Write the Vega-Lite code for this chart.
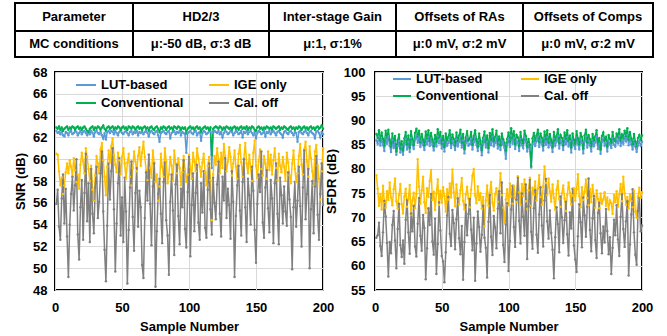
{
"$schema":"https://vega.github.io/schema/vega-lite/v6.json",
"background":"white",
"padding":{"left":13,"top":2,"right":5,"bottom":5},
"config":{"font":"Liberation Sans","view":{"stroke":"black","strokeWidth":2},
"axis":{"labelFont":"Liberation Sans","labelFontSize":13,"labelFontWeight":"bold","labelColor":"black","labelFlush":false,"titleFont":"Liberation Sans","titleFontSize":13,"titleFontWeight":"bold","titleColor":"black","domain":false,"ticks":false,"gridColor":"#d9d9d9","gridWidth":1},
"legend":{"labelFont":"Liberation Sans"}},
"datasets":{
"table":[
{"r":0,"x0":0,"x1":118,"xc":59,"y0":0,"y1":28,"yc":14,"t":"Parameter"},
{"r":0,"x0":118,"x1":254,"xc":186,"y0":0,"y1":28,"yc":14,"t":"HD2/3"},
{"r":0,"x0":254,"x1":381,"xc":317.5,"y0":0,"y1":28,"yc":14,"t":"Inter-stage Gain"},
{"r":0,"x0":381,"x1":508,"xc":444.5,"y0":0,"y1":28,"yc":14,"t":"Offsets of RAs"},
{"r":0,"x0":508,"x1":638,"xc":573,"y0":0,"y1":28,"yc":14,"t":"Offsets of Comps"},
{"r":1,"x0":0,"x1":118,"xc":59,"y0":28,"y1":54,"yc":41,"t":"MC conditions"},
{"r":1,"x0":118,"x1":254,"xc":186,"y0":28,"y1":54,"yc":41,"t":"μ:-50 dB, σ:3 dB"},
{"r":1,"x0":254,"x1":381,"xc":317.5,"y0":28,"y1":54,"yc":41,"t":"μ:1, σ:1%"},
{"r":1,"x0":381,"x1":508,"xc":444.5,"y0":28,"y1":54,"yc":41,"t":"μ:0 mV, σ:2 mV"},
{"r":1,"x0":508,"x1":638,"xc":573,"y0":28,"y1":54,"yc":41,"t":"μ:0 mV, σ:2 mV"}
],
"snr":[
{"n":1,"a":62.6,"b":60.5,"c":62.9,"d":55.9},
{"n":2,"a":62.4,"b":60.4,"c":62.8,"d":57.2},
{"n":3,"a":62.5,"b":58.9,"c":63.0,"d":53.8},
{"n":4,"a":62.3,"b":57.6,"c":62.7,"d":52.6},
{"n":5,"a":62.6,"b":58.3,"c":62.9,"d":56.4},
{"n":6,"a":62.2,"b":56.8,"c":62.6,"d":58.6},
{"n":7,"a":62.1,"b":57.6,"c":62.8,"d":54.1},
{"n":8,"a":62.5,"b":58.8,"c":62.9,"d":57.3},
{"n":9,"a":62.4,"b":59.6,"c":63.0,"d":52.9},
{"n":10,"a":62.2,"b":58.7,"c":62.7,"d":49.2},
{"n":11,"a":62.5,"b":59.9,"c":62.9,"d":54.0},
{"n":12,"a":62.6,"b":59.3,"c":62.8,"d":56.8},
{"n":13,"a":62.3,"b":58.4,"c":63.0,"d":58.4},
{"n":14,"a":62.4,"b":60.1,"c":62.9,"d":55.3},
{"n":15,"a":62.6,"b":59.0,"c":62.7,"d":57.6},
{"n":16,"a":62.5,"b":57.9,"c":62.9,"d":60.0},
{"n":17,"a":62.2,"b":58.6,"c":63.0,"d":53.1},
{"n":18,"a":62.4,"b":57.3,"c":62.8,"d":50.8},
{"n":19,"a":62.6,"b":59.5,"c":62.9,"d":55.6},
{"n":20,"a":62.3,"b":60.6,"c":62.7,"d":58.1},
{"n":21,"a":62.5,"b":59.8,"c":62.9,"d":52.6},
{"n":22,"a":62.6,"b":58.7,"c":63.0,"d":56.9},
{"n":23,"a":62.4,"b":61.0,"c":62.8,"d":60.5},
{"n":24,"a":62.2,"b":60.2,"c":62.6,"d":54.3},
{"n":25,"a":62.5,"b":59.1,"c":62.5,"d":57.8},
{"n":26,"a":62.3,"b":58.0,"c":62.8,"d":52.4},
{"n":27,"a":62.6,"b":59.4,"c":62.9,"d":59.1},
{"n":28,"a":62.4,"b":57.2,"c":63.0,"d":55.0},
{"n":29,"a":62.1,"b":56.2,"c":62.7,"d":53.2},
{"n":30,"a":62.5,"b":58.5,"c":62.9,"d":57.4},
{"n":31,"a":62.6,"b":60.3,"c":62.8,"d":59.3},
{"n":32,"a":62.4,"b":59.6,"c":63.0,"d":54.6},
{"n":33,"a":62.3,"b":58.7,"c":62.9,"d":56.1},
{"n":34,"a":62.5,"b":60.9,"c":62.7,"d":58.7},
{"n":35,"a":62.2,"b":61.5,"c":62.9,"d":60.7},
{"n":36,"a":61.9,"b":59.9,"c":63.1,"d":55.2},
{"n":37,"a":62.4,"b":58.4,"c":62.8,"d":51.7},
{"n":38,"a":61.8,"b":56.7,"c":62.6,"d":48.8},
{"n":39,"a":62.5,"b":59.3,"c":62.9,"d":53.9},
{"n":40,"a":62.6,"b":60.8,"c":63.0,"d":59.6},
{"n":41,"a":62.4,"b":59.7,"c":62.8,"d":56.3},
{"n":42,"a":62.6,"b":61.2,"c":62.9,"d":58.9},
{"n":43,"a":62.5,"b":61.9,"c":63.0,"d":61.0},
{"n":44,"a":62.3,"b":60.4,"c":62.7,"d":55.4},
{"n":45,"a":62.6,"b":59.5,"c":62.9,"d":49.7},
{"n":46,"a":62.4,"b":58.8,"c":62.8,"d":54.1},
{"n":47,"a":62.2,"b":60.6,"c":63.0,"d":57.8},
{"n":48,"a":62.5,"b":59.9,"c":62.9,"d":60.1},
{"n":49,"a":62.6,"b":58.6,"c":62.7,"d":53.0},
{"n":50,"a":62.4,"b":60.2,"c":62.9,"d":56.5},
{"n":51,"a":62.3,"b":61.0,"c":63.0,"d":52.4},
{"n":52,"a":62.5,"b":59.6,"c":62.8,"d":58.3},
{"n":53,"a":62.6,"b":58.2,"c":62.9,"d":55.2},
{"n":54,"a":62.4,"b":59.7,"c":62.7,"d":48.6},
{"n":55,"a":62.2,"b":60.5,"c":63.0,"d":53.5},
{"n":56,"a":62.5,"b":58.4,"c":62.9,"d":57.4},
{"n":57,"a":62.6,"b":57.6,"c":62.8,"d":59.8},
{"n":58,"a":62.3,"b":59.2,"c":63.0,"d":54.7},
{"n":59,"a":62.5,"b":60.7,"c":62.9,"d":51.6},
{"n":60,"a":62.4,"b":59.8,"c":62.7,"d":56.9},
{"n":61,"a":62.6,"b":58.9,"c":62.9,"d":59.2},
{"n":62,"a":62.2,"b":60.3,"c":63.0,"d":53.8},
{"n":63,"a":62.5,"b":61.1,"c":62.8,"d":57.1},
{"n":64,"a":62.4,"b":59.4,"c":62.9,"d":55.6},
{"n":65,"a":62.6,"b":60.6,"c":62.7,"d":50.3},
{"n":66,"a":62.3,"b":61.6,"c":62.9,"d":49.1},
{"n":67,"a":62.5,"b":60.2,"c":63.0,"d":54.6},
{"n":68,"a":62.6,"b":59.0,"c":62.8,"d":58.8},
{"n":69,"a":62.4,"b":58.1,"c":62.9,"d":56.2},
{"n":70,"a":62.1,"b":60.4,"c":62.6,"d":60.4},
{"n":71,"a":62.5,"b":59.2,"c":62.9,"d":55.9},
{"n":72,"a":62.6,"b":58.3,"c":63.0,"d":52.1},
{"n":73,"a":62.4,"b":60.8,"c":62.8,"d":57.5},
{"n":74,"a":62.3,"b":59.7,"c":62.7,"d":59.6},
{"n":75,"a":62.5,"b":57.9,"c":62.9,"d":48.3},
{"n":76,"a":62.6,"b":58.6,"c":63.0,"d":53.4},
{"n":77,"a":62.2,"b":56.2,"c":62.8,"d":56.8},
{"n":78,"a":61.6,"b":57.5,"c":62.5,"d":58.2},
{"n":79,"a":62.4,"b":60.5,"c":62.9,"d":55.0},
{"n":80,"a":62.5,"b":59.3,"c":62.8,"d":52.3},
{"n":81,"a":62.6,"b":58.4,"c":63.0,"d":57.9},
{"n":82,"a":62.4,"b":61.0,"c":62.9,"d":59.7},
{"n":83,"a":62.3,"b":59.8,"c":62.7,"d":54.4},
{"n":84,"a":62.5,"b":57.8,"c":62.9,"d":53.0},
{"n":85,"a":62.6,"b":58.6,"c":63.0,"d":49.4},
{"n":86,"a":61.9,"b":60.2,"c":62.8,"d":56.1},
{"n":87,"a":62.4,"b":59.4,"c":62.9,"d":58.6},
{"n":88,"a":62.5,"b":58.0,"c":62.7,"d":55.3},
{"n":89,"a":62.6,"b":60.8,"c":63.0,"d":51.2},
{"n":90,"a":62.3,"b":59.6,"c":62.9,"d":57.7},
{"n":91,"a":62.5,"b":58.7,"c":62.8,"d":59.5},
{"n":92,"a":62.4,"b":60.1,"c":63.0,"d":54.8},
{"n":93,"a":62.6,"b":59.2,"c":62.9,"d":52.2},
{"n":94,"a":62.2,"b":57.6,"c":62.7,"d":57.3},
{"n":95,"a":62.5,"b":58.8,"c":62.9,"d":55.6},
{"n":96,"a":62.4,"b":60.3,"c":62.8,"d":59.9},
{"n":97,"a":62.3,"b":59.1,"c":62.9,"d":53.6},
{"n":98,"a":60.6,"b":57.9,"c":62.4,"d":51.9},
{"n":99,"a":62.4,"b":58.6,"c":62.8,"d":57.0},
{"n":100,"a":62.5,"b":60.4,"c":62.9,"d":60.2},
{"n":101,"a":62.6,"b":59.3,"c":63.0,"d":51.1},
{"n":102,"a":62.4,"b":58.2,"c":62.8,"d":55.8},
{"n":103,"a":62.3,"b":60.6,"c":62.9,"d":58.7},
{"n":104,"a":62.5,"b":59.8,"c":62.7,"d":53.4},
{"n":105,"a":62.6,"b":58.9,"c":62.9,"d":56.9},
{"n":106,"a":62.2,"b":61.0,"c":63.0,"d":59.5},
{"n":107,"a":62.4,"b":60.1,"c":62.8,"d":54.2},
{"n":108,"a":62.5,"b":59.3,"c":62.9,"d":52.6},
{"n":109,"a":61.7,"b":58.4,"c":62.5,"d":57.8},
{"n":110,"a":62.4,"b":59.7,"c":62.8,"d":55.1},
{"n":111,"a":62.6,"b":60.5,"c":62.9,"d":58.9},
{"n":112,"a":62.5,"b":58.8,"c":63.0,"d":53.7},
{"n":113,"a":62.3,"b":57.6,"c":62.8,"d":52.8},
{"n":114,"a":62.4,"b":59.4,"c":62.9,"d":57.2},
{"n":115,"a":62.6,"b":60.2,"c":62.7,"d":59.6},
{"n":116,"a":62.5,"b":58.1,"c":62.9,"d":55.4},
{"n":117,"a":59.2,"b":54.4,"c":60.4,"d":53.1},
{"n":118,"a":62.4,"b":58.6,"c":62.8,"d":58.3},
{"n":119,"a":62.6,"b":60.3,"c":62.9,"d":56.0},
{"n":120,"a":62.5,"b":59.5,"c":63.0,"d":54.5},
{"n":121,"a":62.4,"b":61.0,"c":62.9,"d":57.7},
{"n":122,"a":62.6,"b":60.0,"c":62.8,"d":59.8},
{"n":123,"a":62.3,"b":58.7,"c":63.0,"d":55.0},
{"n":124,"a":62.5,"b":60.6,"c":62.9,"d":52.9},
{"n":125,"a":62.0,"b":59.2,"c":62.7,"d":58.4},
{"n":126,"a":62.4,"b":61.4,"c":62.9,"d":56.2},
{"n":127,"a":62.6,"b":60.3,"c":62.8,"d":60.1},
{"n":128,"a":62.5,"b":58.9,"c":63.0,"d":54.6},
{"n":129,"a":62.3,"b":59.8,"c":62.9,"d":57.3},
{"n":130,"a":62.4,"b":61.1,"c":62.8,"d":55.8},
{"n":131,"a":62.6,"b":60.2,"c":62.9,"d":52.7},
{"n":132,"a":62.5,"b":58.5,"c":62.7,"d":58.9},
{"n":133,"a":62.2,"b":59.6,"c":62.9,"d":56.1},
{"n":134,"a":62.4,"b":60.8,"c":63.0,"d":49.2},
{"n":135,"a":62.6,"b":59.3,"c":62.8,"d":54.8},
{"n":136,"a":62.5,"b":58.2,"c":62.9,"d":57.6},
{"n":137,"a":62.3,"b":60.5,"c":62.7,"d":59.4},
{"n":138,"a":62.4,"b":61.3,"c":62.9,"d":55.3},
{"n":139,"a":62.6,"b":59.7,"c":63.0,"d":53.0},
{"n":140,"a":62.0,"b":58.4,"c":62.8,"d":57.9},
{"n":141,"a":62.5,"b":60.1,"c":62.9,"d":60.0},
{"n":142,"a":62.4,"b":61.5,"c":62.8,"d":55.6},
{"n":143,"a":62.6,"b":59.6,"c":63.0,"d":52.4},
{"n":144,"a":62.3,"b":58.7,"c":62.7,"d":58.2},
{"n":145,"a":62.5,"b":60.4,"c":62.9,"d":56.7},
{"n":146,"a":62.6,"b":59.2,"c":62.8,"d":54.0},
{"n":147,"a":62.4,"b":58.0,"c":63.0,"d":59.3},
{"n":148,"a":62.2,"b":60.6,"c":62.9,"d":57.1},
{"n":149,"a":62.5,"b":61.7,"c":62.7,"d":53.5},
{"n":150,"a":61.9,"b":59.4,"c":62.6,"d":50.5},
{"n":151,"a":62.4,"b":58.3,"c":62.9,"d":55.9},
{"n":152,"a":62.6,"b":59.8,"c":63.0,"d":58.6},
{"n":153,"a":62.5,"b":60.9,"c":62.8,"d":57.0},
{"n":154,"a":62.3,"b":59.1,"c":62.9,"d":60.7},
{"n":155,"a":62.4,"b":58.5,"c":62.7,"d":54.2},
{"n":156,"a":62.6,"b":60.3,"c":62.9,"d":52.8},
{"n":157,"a":62.1,"b":59.6,"c":62.8,"d":57.4},
{"n":158,"a":62.5,"b":58.2,"c":63.0,"d":59.0},
{"n":159,"a":62.4,"b":60.7,"c":62.9,"d":55.5},
{"n":160,"a":62.6,"b":59.0,"c":62.8,"d":53.3},
{"n":161,"a":62.3,"b":60.4,"c":62.9,"d":58.1},
{"n":162,"a":62.5,"b":58.6,"c":62.7,"d":56.4},
{"n":163,"a":62.6,"b":59.9,"c":63.0,"d":52.3},
{"n":164,"a":62.4,"b":61.0,"c":62.9,"d":57.8},
{"n":165,"a":62.2,"b":59.2,"c":62.8,"d":59.6},
{"n":166,"a":62.5,"b":58.1,"c":62.9,"d":55.0},
{"n":167,"a":62.6,"b":60.5,"c":63.0,"d":52.2},
{"n":168,"a":62.4,"b":59.4,"c":62.7,"d":58.3},
{"n":169,"a":62.3,"b":58.8,"c":62.9,"d":56.7},
{"n":170,"a":62.0,"b":60.2,"c":62.8,"d":54.1},
{"n":171,"a":62.5,"b":59.3,"c":63.0,"d":57.5},
{"n":172,"a":62.6,"b":58.0,"c":62.9,"d":55.2},
{"n":173,"a":62.4,"b":60.6,"c":62.8,"d":53.9},
{"n":174,"a":62.3,"b":59.7,"c":62.7,"d":58.8},
{"n":175,"a":62.5,"b":58.5,"c":62.9,"d":56.3},
{"n":176,"a":62.6,"b":57.8,"c":63.0,"d":54.7},
{"n":177,"a":62.4,"b":59.6,"c":62.8,"d":49.9},
{"n":178,"a":62.2,"b":60.8,"c":62.9,"d":55.6},
{"n":179,"a":62.5,"b":59.1,"c":62.7,"d":57.9},
{"n":180,"a":62.4,"b":57.9,"c":62.9,"d":53.8},
{"n":181,"a":61.6,"b":58.7,"c":62.8,"d":56.2},
{"n":182,"a":62.5,"b":60.3,"c":63.0,"d":59.3},
{"n":183,"a":62.6,"b":61.4,"c":62.9,"d":55.7},
{"n":184,"a":62.4,"b":59.5,"c":62.7,"d":52.0},
{"n":185,"a":62.3,"b":58.6,"c":62.9,"d":57.4},
{"n":186,"a":62.5,"b":60.9,"c":63.0,"d":60.8},
{"n":187,"a":62.6,"b":61.6,"c":62.8,"d":54.5},
{"n":188,"a":62.4,"b":59.8,"c":62.9,"d":56.8},
{"n":189,"a":62.2,"b":58.4,"c":62.7,"d":59.1},
{"n":190,"a":62.5,"b":61.2,"c":62.9,"d":50.0},
{"n":191,"a":62.6,"b":60.1,"c":63.0,"d":55.4},
{"n":192,"a":62.4,"b":58.9,"c":62.8,"d":58.0},
{"n":193,"a":62.3,"b":57.6,"c":62.9,"d":53.2},
{"n":194,"a":61.9,"b":60.7,"c":62.7,"d":57.5},
{"n":195,"a":62.5,"b":61.3,"c":62.9,"d":60.3},
{"n":196,"a":62.6,"b":59.4,"c":63.0,"d":54.9},
{"n":197,"a":62.4,"b":58.2,"c":62.8,"d":52.6},
{"n":198,"a":62.0,"b":56.3,"c":62.9,"d":56.8},
{"n":199,"a":62.5,"b":58.9,"c":63.1,"d":59.6},
{"n":200,"a":62.3,"b":61.0,"c":62.8,"d":55.8}
],
"sfdr":[
{"n":1,"a":85.9,"b":78.7,"c":87.2,"d":65.8},
{"n":2,"a":85.2,"b":75.9,"c":86.4,"d":66.3},
{"n":3,"a":86.7,"b":72.4,"c":88.0,"d":68.9},
{"n":4,"a":84.8,"b":74.8,"c":85.9,"d":64.1},
{"n":5,"a":86.1,"b":71.6,"c":87.5,"d":62.0},
{"n":6,"a":85.0,"b":76.5,"c":86.2,"d":66.9},
{"n":7,"a":83.7,"b":73.2,"c":84.8,"d":73.4},
{"n":8,"a":86.5,"b":72.0,"c":87.9,"d":70.2},
{"n":9,"a":85.2,"b":75.4,"c":86.5,"d":64.7},
{"n":10,"a":86.6,"b":73.6,"c":88.1,"d":57.8},
{"n":11,"a":84.8,"b":77.2,"c":86.0,"d":64.9},
{"n":12,"a":83.5,"b":74.1,"c":84.6,"d":62.6},
{"n":13,"a":86.0,"b":72.5,"c":87.3,"d":68.4},
{"n":14,"a":84.3,"b":75.8,"c":85.4,"d":71.3},
{"n":15,"a":85.5,"b":78.0,"c":86.8,"d":65.2},
{"n":16,"a":82.9,"b":73.3,"c":83.6,"d":59.5},
{"n":17,"a":84.7,"b":71.8,"c":85.9,"d":67.6},
{"n":18,"a":85.8,"b":74.6,"c":87.1,"d":72.8},
{"n":19,"a":83.4,"b":76.9,"c":84.2,"d":64.3},
{"n":20,"a":84.6,"b":72.7,"c":85.7,"d":61.8},
{"n":21,"a":82.9,"b":70.8,"c":83.8,"d":65.2},
{"n":22,"a":85.0,"b":74.3,"c":86.3,"d":60.4},
{"n":23,"a":86.2,"b":75.9,"c":87.6,"d":69.5},
{"n":24,"a":84.0,"b":72.2,"c":85.1,"d":73.6},
{"n":25,"a":85.6,"b":73.8,"c":86.9,"d":66.9},
{"n":26,"a":83.5,"b":76.7,"c":84.3,"d":62.5},
{"n":27,"a":86.4,"b":70.6,"c":87.8,"d":70.8},
{"n":28,"a":85.0,"b":73.5,"c":86.2,"d":67.1},
{"n":29,"a":84.1,"b":75.1,"c":85.0,"d":72.4},
{"n":30,"a":86.0,"b":71.9,"c":87.4,"d":64.0},
{"n":31,"a":86.8,"b":74.8,"c":88.3,"d":61.9},
{"n":32,"a":85.4,"b":82.0,"c":86.6,"d":68.7},
{"n":33,"a":86.5,"b":76.3,"c":87.9,"d":74.0},
{"n":34,"a":84.5,"b":72.8,"c":85.5,"d":66.2},
{"n":35,"a":85.9,"b":75.6,"c":87.2,"d":63.1},
{"n":36,"a":85.0,"b":78.4,"c":86.0,"d":70.5},
{"n":37,"a":83.9,"b":73.1,"c":84.9,"d":67.8},
{"n":38,"a":86.3,"b":70.9,"c":87.7,"d":57.2},
{"n":39,"a":85.1,"b":76.0,"c":86.3,"d":63.6},
{"n":40,"a":86.6,"b":74.2,"c":88.0,"d":71.9},
{"n":41,"a":84.7,"b":77.5,"c":85.8,"d":68.4},
{"n":42,"a":86.0,"b":79.8,"c":87.4,"d":74.8},
{"n":43,"a":85.0,"b":73.6,"c":86.1,"d":65.0},
{"n":44,"a":83.8,"b":75.3,"c":84.7,"d":62.3},
{"n":45,"a":85.7,"b":71.5,"c":87.0,"d":69.7},
{"n":46,"a":84.6,"b":74.9,"c":85.6,"d":58.3},
{"n":47,"a":86.8,"b":77.8,"c":88.2,"d":64.5},
{"n":48,"a":85.3,"b":72.6,"c":86.4,"d":73.1},
{"n":49,"a":86.2,"b":75.5,"c":87.6,"d":67.3},
{"n":50,"a":84.2,"b":73.0,"c":85.2,"d":62.0},
{"n":51,"a":85.5,"b":76.2,"c":86.8,"d":60.9},
{"n":52,"a":83.6,"b":74.4,"c":84.5,"d":56.6},
{"n":53,"a":85.9,"b":71.2,"c":87.3,"d":62.8},
{"n":54,"a":84.8,"b":75.8,"c":85.9,"d":70.4},
{"n":55,"a":85.4,"b":73.7,"c":86.6,"d":74.2},
{"n":56,"a":86.5,"b":77.0,"c":88.0,"d":66.6},
{"n":57,"a":84.3,"b":74.1,"c":85.3,"d":64.1},
{"n":58,"a":85.8,"b":79.9,"c":87.1,"d":71.5},
{"n":59,"a":85.1,"b":75.2,"c":86.2,"d":68.8},
{"n":60,"a":83.9,"b":72.3,"c":84.8,"d":63.4},
{"n":61,"a":86.1,"b":76.8,"c":87.5,"d":69.6},
{"n":62,"a":84.6,"b":74.0,"c":85.7,"d":73.9},
{"n":63,"a":85.6,"b":72.7,"c":86.9,"d":65.7},
{"n":64,"a":86.7,"b":75.6,"c":88.1,"d":62.4},
{"n":65,"a":84.4,"b":78.1,"c":85.4,"d":68.2},
{"n":66,"a":85.9,"b":73.4,"c":87.2,"d":57.1},
{"n":67,"a":83.2,"b":71.6,"c":84.1,"d":64.9},
{"n":68,"a":85.3,"b":74.7,"c":86.5,"d":72.6},
{"n":69,"a":86.4,"b":76.3,"c":87.8,"d":66.3},
{"n":70,"a":84.8,"b":73.9,"c":85.9,"d":70.7},
{"n":71,"a":85.1,"b":72.1,"c":86.3,"d":73.8},
{"n":72,"a":86.2,"b":75.7,"c":87.6,"d":67.5},
{"n":73,"a":84.0,"b":78.6,"c":85.0,"d":63.2},
{"n":74,"a":85.5,"b":80.0,"c":86.8,"d":69.9},
{"n":75,"a":86.5,"b":74.5,"c":88.0,"d":56.9},
{"n":76,"a":85.0,"b":72.9,"c":86.1,"d":64.6},
{"n":77,"a":83.7,"b":76.4,"c":84.6,"d":71.2},
{"n":78,"a":85.9,"b":73.6,"c":87.3,"d":68.0},
{"n":79,"a":84.7,"b":75.0,"c":85.8,"d":62.9},
{"n":80,"a":82.8,"b":71.8,"c":83.9,"d":66.4},
{"n":81,"a":85.2,"b":74.2,"c":86.4,"d":72.4},
{"n":82,"a":86.3,"b":68.1,"c":87.7,"d":65.8},
{"n":83,"a":84.4,"b":73.5,"c":85.5,"d":63.7},
{"n":84,"a":85.6,"b":76.6,"c":86.9,"d":57.6},
{"n":85,"a":83.4,"b":72.4,"c":84.3,"d":69.1},
{"n":86,"a":86.0,"b":75.1,"c":87.4,"d":74.6},
{"n":87,"a":84.9,"b":77.3,"c":86.0,"d":66.0},
{"n":88,"a":86.7,"b":73.0,"c":88.2,"d":62.2},
{"n":89,"a":84.6,"b":71.4,"c":85.7,"d":70.3},
{"n":90,"a":85.4,"b":74.8,"c":86.6,"d":67.9},
{"n":91,"a":86.4,"b":76.0,"c":87.9,"d":63.6},
{"n":92,"a":84.2,"b":73.2,"c":85.2,"d":71.8},
{"n":93,"a":85.4,"b":75.4,"c":86.7,"d":75.4},
{"n":94,"a":83.9,"b":79.1,"c":84.9,"d":66.7},
{"n":95,"a":85.9,"b":74.6,"c":87.3,"d":77.2},
{"n":96,"a":85.0,"b":72.0,"c":86.1,"d":64.3},
{"n":97,"a":84.3,"b":68.9,"c":85.4,"d":60.8},
{"n":98,"a":82.1,"b":73.7,"c":83.8,"d":68.5},
{"n":99,"a":85.0,"b":75.8,"c":86.2,"d":72.9},
{"n":100,"a":86.1,"b":72.5,"c":87.5,"d":58.9},
{"n":101,"a":84.5,"b":77.0,"c":85.6,"d":65.1},
{"n":102,"a":86.9,"b":74.3,"c":88.4,"d":71.6},
{"n":103,"a":85.2,"b":72.8,"c":86.3,"d":76.5},
{"n":104,"a":86.4,"b":76.5,"c":87.8,"d":68.0},
{"n":105,"a":84.1,"b":74.0,"c":85.1,"d":63.9},
{"n":106,"a":85.7,"b":73.1,"c":87.0,"d":73.7},
{"n":107,"a":85.4,"b":78.5,"c":86.5,"d":78.1},
{"n":108,"a":83.7,"b":75.2,"c":84.7,"d":69.3},
{"n":109,"a":86.2,"b":72.6,"c":87.6,"d":64.6},
{"n":110,"a":84.9,"b":76.9,"c":86.0,"d":74.9},
{"n":111,"a":84.3,"b":74.4,"c":85.3,"d":70.1},
{"n":112,"a":86.5,"b":77.8,"c":87.9,"d":66.2},
{"n":113,"a":85.6,"b":73.3,"c":86.8,"d":76.8},
{"n":114,"a":83.6,"b":71.7,"c":84.6,"d":61.4},
{"n":115,"a":85.0,"b":75.6,"c":86.2,"d":72.3},
{"n":116,"a":84.0,"b":78.2,"c":85.0,"d":77.7},
{"n":117,"a":80.3,"b":72.4,"c":80.6,"d":67.0},
{"n":118,"a":85.1,"b":76.1,"c":86.3,"d":63.5},
{"n":119,"a":86.0,"b":74.7,"c":87.4,"d":71.9},
{"n":120,"a":84.7,"b":77.4,"c":85.8,"d":75.6},
{"n":121,"a":85.7,"b":73.5,"c":86.9,"d":66.4},
{"n":122,"a":86.7,"b":75.9,"c":88.1,"d":62.7},
{"n":123,"a":84.5,"b":78.7,"c":85.6,"d":70.6},
{"n":124,"a":85.9,"b":74.2,"c":87.3,"d":76.2},
{"n":125,"a":85.2,"b":72.6,"c":86.4,"d":68.3},
{"n":126,"a":83.8,"b":76.4,"c":84.8,"d":64.0},
{"n":127,"a":86.3,"b":80.5,"c":87.7,"d":73.5},
{"n":128,"a":85.0,"b":77.1,"c":86.1,"d":77.9},
{"n":129,"a":86.6,"b":74.6,"c":88.0,"d":69.2},
{"n":130,"a":84.4,"b":78.0,"c":85.4,"d":65.6},
{"n":131,"a":85.9,"b":75.3,"c":87.2,"d":71.4},
{"n":132,"a":84.9,"b":73.2,"c":86.0,"d":66.8},
{"n":133,"a":83.5,"b":76.8,"c":84.5,"d":63.3},
{"n":134,"a":86.2,"b":74.0,"c":87.6,"d":57.4},
{"n":135,"a":84.8,"b":71.5,"c":85.9,"d":65.9},
{"n":136,"a":85.6,"b":75.7,"c":86.8,"d":72.1},
{"n":137,"a":86.8,"b":77.5,"c":88.2,"d":68.6},
{"n":138,"a":84.2,"b":73.8,"c":85.3,"d":62.8},
{"n":139,"a":85.8,"b":72.2,"c":87.0,"d":74.3},
{"n":140,"a":85.3,"b":75.0,"c":86.4,"d":70.0},
{"n":141,"a":83.9,"b":76.6,"c":84.9,"d":64.7},
{"n":142,"a":86.1,"b":73.9,"c":87.5,"d":69.4},
{"n":143,"a":85.1,"b":71.3,"c":86.2,"d":73.2},
{"n":144,"a":86.6,"b":74.6,"c":88.0,"d":66.5},
{"n":145,"a":84.6,"b":77.2,"c":85.7,"d":62.1},
{"n":146,"a":85.7,"b":75.1,"c":86.9,"d":71.0},
{"n":147,"a":83.4,"b":72.7,"c":84.4,"d":67.7},
{"n":148,"a":86.0,"b":74.5,"c":87.3,"d":75.9},
{"n":149,"a":84.9,"b":76.0,"c":86.0,"d":64.2},
{"n":150,"a":84.1,"b":73.4,"c":85.2,"d":61.3},
{"n":151,"a":86.4,"b":75.8,"c":87.8,"d":58.7},
{"n":152,"a":85.2,"b":78.9,"c":86.3,"d":66.1},
{"n":153,"a":84.0,"b":74.4,"c":85.1,"d":72.7},
{"n":154,"a":86.0,"b":72.1,"c":87.4,"d":69.0},
{"n":155,"a":85.4,"b":76.2,"c":86.6,"d":63.8},
{"n":156,"a":83.2,"b":73.6,"c":84.2,"d":74.1},
{"n":157,"a":85.6,"b":75.3,"c":86.9,"d":70.4},
{"n":158,"a":86.7,"b":77.8,"c":88.1,"d":66.0},
{"n":159,"a":84.4,"b":74.0,"c":85.5,"d":72.2},
{"n":160,"a":85.8,"b":72.5,"c":87.0,"d":78.0},
{"n":161,"a":84.9,"b":75.9,"c":86.1,"d":67.4},
{"n":162,"a":83.6,"b":73.1,"c":84.7,"d":63.0},
{"n":163,"a":85.9,"b":76.7,"c":87.2,"d":69.8},
{"n":164,"a":84.7,"b":74.3,"c":85.8,"d":74.4},
{"n":165,"a":85.5,"b":72.0,"c":86.7,"d":65.3},
{"n":166,"a":86.6,"b":75.6,"c":88.0,"d":61.6},
{"n":167,"a":84.1,"b":73.8,"c":85.2,"d":70.9},
{"n":168,"a":85.2,"b":71.9,"c":86.4,"d":73.0},
{"n":169,"a":83.1,"b":74.9,"c":84.0,"d":66.7},
{"n":170,"a":85.6,"b":72.8,"c":86.8,"d":62.6},
{"n":171,"a":86.2,"b":73.7,"c":87.5,"d":68.1},
{"n":172,"a":84.8,"b":75.2,"c":85.9,"d":64.8},
{"n":173,"a":85.4,"b":72.4,"c":86.6,"d":71.7},
{"n":174,"a":83.6,"b":74.1,"c":84.6,"d":67.2},
{"n":175,"a":85.8,"b":71.6,"c":87.0,"d":62.4},
{"n":176,"a":85.1,"b":73.5,"c":86.2,"d":65.9},
{"n":177,"a":84.3,"b":72.9,"c":85.4,"d":58.3},
{"n":178,"a":86.3,"b":70.7,"c":87.6,"d":63.7},
{"n":179,"a":85.0,"b":74.6,"c":86.1,"d":69.5},
{"n":180,"a":84.6,"b":73.1,"c":85.7,"d":66.3},
{"n":181,"a":86.0,"b":75.4,"c":87.3,"d":72.5},
{"n":182,"a":85.3,"b":72.2,"c":86.5,"d":65.4},
{"n":183,"a":86.8,"b":74.8,"c":88.2,"d":62.0},
{"n":184,"a":84.7,"b":76.9,"c":85.8,"d":70.1},
{"n":185,"a":85.9,"b":73.3,"c":87.1,"d":74.7},
{"n":186,"a":85.2,"b":78.4,"c":86.4,"d":67.6},
{"n":187,"a":86.6,"b":75.0,"c":87.9,"d":63.9},
{"n":188,"a":85.7,"b":72.6,"c":86.8,"d":69.2},
{"n":189,"a":87.0,"b":74.2,"c":88.4,"d":73.3},
{"n":190,"a":84.9,"b":71.8,"c":86.0,"d":58.0},
{"n":191,"a":86.3,"b":74.7,"c":87.6,"d":64.4},
{"n":192,"a":85.1,"b":73.4,"c":86.3,"d":70.6},
{"n":193,"a":84.0,"b":72.1,"c":85.1,"d":75.8},
{"n":194,"a":85.9,"b":75.5,"c":87.2,"d":66.9},
{"n":195,"a":84.6,"b":71.2,"c":85.7,"d":62.3},
{"n":196,"a":83.5,"b":69.9,"c":84.6,"d":60.2},
{"n":197,"a":84.9,"b":74.3,"c":86.4,"d":71.3},
{"n":198,"a":85.7,"b":76.1,"c":87.0,"d":74.0},
{"n":199,"a":84.8,"b":74.0,"c":86.1,"d":67.1},
{"n":200,"a":85.6,"b":75.2,"c":86.9,"d":68.3}
]
},
"vconcat":[
{
"width":638,"height":54,
"view":{"stroke":null},
"data":{"name":"table"},
"layer":[
{"mark":{"type":"rect","fill":"white","stroke":"black","strokeWidth":2},
"encoding":{"x":{"field":"x0","type":"quantitative","scale":{"domain":[40,678],"nice":false,"zero":false},"axis":null},"x2":{"field":"x1"},
"y":{"field":"y0","type":"quantitative","scale":{"domain":[0,54],"reverse":true,"nice":false},"axis":null},"y2":{"field":"y1"}}},
{"mark":{"type":"text","fontWeight":"bold","fontSize":13,"font":"Liberation Sans","color":"black"},
"encoding":{"x":{"field":"xc","type":"quantitative"},"y":{"field":"yc","type":"quantitative"},"text":{"field":"t","type":"nominal"}}}
]
},
{
"hconcat":[
{
"width":268,"height":218,
"data":{"name":"snr"},
"transform":[{"fold":["a","b","c","d"],"as":["s","v"]}],
"mark":{"type":"line","strokeWidth":1.5,"point":{"filled":true,"size":6}},
"encoding":{
"x":{"field":"n","type":"quantitative","scale":{"domain":[0,200],"nice":false},"axis":{"values":[0,50,100,150,200],"title":"Sample Number","labelPadding":11,"titlePadding":6}},
"y":{"field":"v","type":"quantitative","scale":{"domain":[48,68],"nice":false},"axis":{"values":[48,50,52,54,56,58,60,62,64,66,68],"title":"SNR (dB)","labelPadding":8,"titlePadding":5}},
"color":{"field":"s","type":"nominal","scale":{"domain":["a","c","b","d"],"range":["#5B9BD5","#00B050","#FFC000","#808080"]},
"legend":{"orient":"none","legendX":20,"legendY":2,"columns":2,"columnPadding":21,"rowPadding":-8,"symbolType":"stroke","symbolSize":400,"symbolStrokeWidth":2,"labelFontSize":13,"labelFontWeight":"bold","labelColor":"black","labelOffset":4,"title":null,
"labelExpr":"datum.label=='a'?'LUT-based':datum.label=='b'?'IGE only':datum.label=='c'?'Conventional':'Cal. off'"}}
}
},
{
"width":267,"height":218,
"data":{"name":"sfdr"},
"transform":[{"fold":["a","b","c","d"],"as":["s","v"]}],
"mark":{"type":"line","strokeWidth":1.5,"point":{"filled":true,"size":6}},
"encoding":{
"x":{"field":"n","type":"quantitative","scale":{"domain":[0,200],"nice":false},"axis":{"values":[0,50,100,150,200],"title":"Sample Number","labelPadding":11,"titlePadding":6}},
"y":{"field":"v","type":"quantitative","scale":{"domain":[55,100],"nice":false},"axis":{"values":[55,60,65,70,75,80,85,90,95,100],"title":"SFDR (dB)","labelPadding":10,"titlePadding":5}},
"color":{"field":"s","type":"nominal","scale":{"domain":["a","c","b","d"],"range":["#5B9BD5","#00B050","#FFC000","#808080"]},
"legend":{"orient":"none","legendX":17,"legendY":-3,"columns":2,"columnPadding":18,"rowPadding":-14,"symbolType":"stroke","symbolSize":324,"symbolStrokeWidth":2,"labelFontSize":13,"labelFontWeight":"bold","labelColor":"black","labelOffset":4,"title":null,
"labelExpr":"datum.label=='a'?'LUT-based':datum.label=='b'?'IGE only':datum.label=='c'?'Conventional':'Cal. off'"}}
}
}
],
"spacing":-11,
"resolve":{"scale":{"color":"independent"}}
}
],
"spacing":7
}
